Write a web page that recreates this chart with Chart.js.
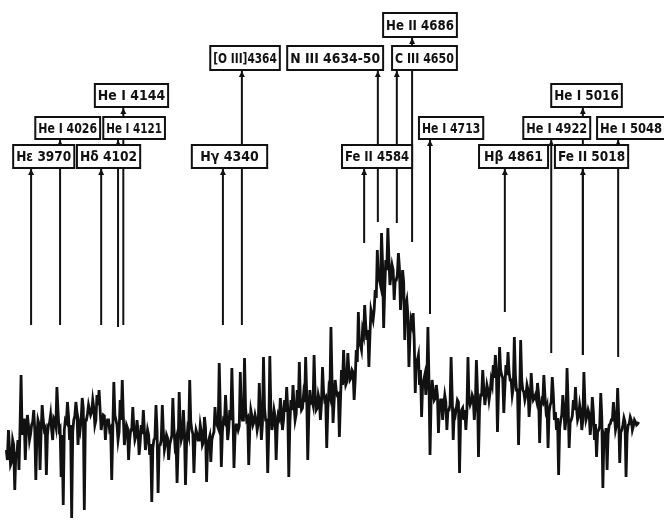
<!DOCTYPE html>
<html>
<head>
<meta charset="utf-8">
<script src="https://cdn.jsdelivr.net/npm/chart.js"></script>
<style>
  html, body { margin: 0; padding: 0; background: #fff; }
  #wrap { width: 664px; height: 523px; position: relative; }
</style>
</head>
<body>
<div id="wrap"><canvas id="spec"></canvas></div>
<script>
// spectrum, relative intensity.
// fluxA: samples every 4 A from 3925 A (spike extremes)
// fluxB: samples in between, every 4 A from 3927 A (the dense core of the trace)
const WAVE_START = 3925;
const WAVE_STEP = 4;
const fluxA = [
  70, 90, 55, 80, 30, 65, 50, 145, 100, 60,
  105, 80, 95, 110, 40, 100, 50, 115, 90, 45,
  95, 105, 80, 100, 133, 90, 43, 15, 100, 118,
  80, 2, 100, 118, 75, 90, 122, 10, 100, 115,
  105, 120, 95, 125, 130, 90, 105, 80, 100, 90,
  40, 138, 100, 80, 120, 140, 75, 95, 60, 90,
  113, 80, 100, 65, 95, 110, 70, 90, 65, 18,
  80, 115, 27, 75, 115, 70, 85, 60, 80, 122,
  75, 37, 128, 80, 110, 35, 90, 140, 90, 47,
  90, 80, 95, 75, 103, 38, 80, 58, 85, 113,
  95, 157, 53, 100, 125, 80, 110, 152, 52, 95,
  90, 148, 100, 162, 100, 55, 110, 95, 105, 90,
  137, 80, 163, 100, 47, 164, 90, 110, 60, 105,
  122, 90, 120, 133, 43, 120, 135, 100, 130, 158,
  110, 125, 163, 60, 130, 120, 165, 110, 125, 100,
  153, 120, 72, 130, 193, 97, 140, 125, 83, 150,
  170, 135, 167, 140, 150, 120, 170, 208, 175, 190,
  215, 180, 153, 210, 200, 230, 270, 240, 287, 192,
  260, 292, 235, 255, 220, 240, 267, 210, 250, 180,
  220, 153, 200, 207, 127, 160, 135, 103, 140, 125,
  193, 65, 140, 120, 135, 87, 120, 100, 125, 90,
  110, 163, 80, 105, 120, 47, 110, 100, 90, 163,
  115, 125, 100, 160, 63, 125, 150, 115, 135, 120,
  140, 155, 165, 88, 173, 145, 107, 155, 168, 140,
  125, 183, 130, 75, 180, 130, 120, 135, 103, 147,
  120, 125, 137, 77, 120, 145, 110, 72, 115, 143,
  100, 90, 45, 100, 125, 90, 152, 72, 100, 120,
  133, 100, 115, 90, 148, 100, 110, 85, 123, 80,
  63, 90, 127, 32, 80, 50, 95, 100, 118, 90,
  132, 57, 90, 102, 43, 95, 103, 90, 100, 95, 98
];
const fluxB = [
  60, 72, 58, 75, 66, 80, 92, 85, 100, 88,
  95, 86, 98, 90, 84, 96, 88, 100, 92, 85,
  97, 90, 102, 94, 110, 92, 85, 90, 98, 104,
  95, 88, 104, 108, 96, 100, 112, 100, 106, 110,
  108, 112, 100, 115, 110, 98, 104, 95, 100, 92,
  88, 105, 95, 88, 100, 104, 86, 92, 80, 90,
  92, 84, 88, 78, 86, 90, 80, 85, 76, 72,
  82, 90, 74, 80, 88, 76, 82, 75, 84, 92,
  80, 72, 95, 84, 88, 76, 85, 98, 86, 78,
  86, 80, 88, 78, 92, 75, 84, 80, 88, 96,
  92, 110, 88, 98, 104, 90, 100, 108, 85, 95,
  94, 106, 100, 112, 102, 90, 104, 98, 100, 96,
  108, 96, 112, 100, 88, 110, 98, 104, 92, 102,
  110, 100, 108, 112, 96, 110, 115, 106, 112, 120,
  112, 118, 125, 105, 118, 115, 126, 112, 120, 116,
  128, 122, 110, 125, 140, 118, 130, 126, 118, 135,
  145, 138, 150, 142, 148, 140, 158, 175, 170, 185,
  195, 190, 185, 205, 210, 222, 240, 235, 255, 230,
  250, 262, 245, 250, 240, 245, 252, 230, 238, 215,
  205, 185, 195, 180, 160, 165, 150, 135, 145, 138,
  140, 118, 130, 122, 125, 112, 120, 115, 118, 110,
  115, 125, 108, 112, 118, 100, 112, 110, 108, 120,
  118, 122, 115, 130, 112, 125, 132, 124, 130, 128,
  135, 142, 148, 130, 150, 142, 132, 145, 148, 140,
  132, 145, 130, 120, 140, 128, 125, 130, 118, 128,
  122, 120, 126, 112, 118, 125, 114, 108, 118, 125,
  108, 102, 92, 105, 112, 100, 118, 98, 104, 110,
  112, 104, 108, 100, 115, 104, 106, 98, 108, 96,
  88, 94, 102, 84, 92, 86, 96, 100, 104, 95,
  104, 88, 95, 98, 86, 96, 100, 94, 98, 96
];

// line identifications
const lineNames = [
  'H\u03b5 3970', 'He I 4026', 'H\u03b4 4102', 'He I 4121', 'He I 4144',
  'H\u03b3 4340', '[O III]4364', 'Fe II 4584', 'N III 4634-50', 'C III 4650',
  'He II 4686', 'He I 4713', 'H\u03b2 4861', 'He I 4922', 'He I 5016',
  'Fe II 5018', 'He I 5048'
];
// where each marker stands on the plotted wavelength scale, and where it stops below
const lineWave = [3972, 4027, 4105, 4137, 4147, 4336, 4372, 4604, 4630, 4666, 4695, 4729, 4871, 4959, 5019, 5019, 5086];
const lineBase = [195, 195, 195, 193, 195, 195, 195, 277, 298, 297, 278, 206, 208, 167, 165, 165, 163];

// label box layout: [left wave, right wave, row]
const rowTop    = [507, 474, 436, 403, 375];
const rowBottom = [483, 450, 413, 381, 352];
const boxLayout = [
  [3938, 4054, 4], [3980, 4103, 3], [4059, 4179, 4], [4109, 4226, 3], [4093, 4232, 2],
  [4277, 4420, 4], [4312, 4444, 1], [4562, 4695, 4], [4458, 4640, 1], [4657, 4780, 1],
  [4640, 4780, 0], [4708, 4830, 3], [4822, 4953, 4], [4906, 5033, 3], [4959, 5093, 2],
  [4966, 5105, 4], [5046, 5175, 3]
];

const INK = '#111';

// interleave the two readings into one trace
const trace = [];
fluxA.forEach((f, i) => {
  trace.push({ x: WAVE_START + i * WAVE_STEP, y: f });
  if (i < fluxB.length) trace.push({ x: WAVE_START + 2 + i * WAVE_STEP, y: fluxB[i] });
});

const labelPlugin = {
  id: 'labelBoxes',
  afterDatasetsDraw(chart) {
    const { ctx, scales: { x, y } } = chart;
    ctx.save();
    ctx.font = 'bold 14px "DejaVu Sans Condensed", "Liberation Sans Narrow", sans-serif';
    ctx.textAlign = 'center';
    ctx.textBaseline = 'middle';
    boxLayout.forEach(([l, r, row], i) => {
      const x0 = x.getPixelForValue(l);
      const x1 = x.getPixelForValue(r);
      const y0 = y.getPixelForValue(rowTop[row]);
      const y1 = y.getPixelForValue(rowBottom[row]);
      ctx.fillStyle = '#fff';
      ctx.fillRect(x0, y0, x1 - x0, y1 - y0);
      ctx.lineWidth = 2;
      ctx.strokeStyle = INK;
      ctx.strokeRect(x0, y0, x1 - x0, y1 - y0);
      ctx.fillStyle = INK;
      ctx.fillText(lineNames[i], (x0 + x1) / 2, (y0 + y1) / 2 + 1, x1 - x0 - 6);
    });
    // arrow heads under each box
    lineWave.forEach((w, i) => {
      const px = x.getPixelForValue(w);
      const py = y.getPixelForValue(rowBottom[boxLayout[i][2]]) + 1;
      ctx.beginPath();
      ctx.moveTo(px, py);
      ctx.lineTo(px - 3, py + 6);
      ctx.lineTo(px + 3, py + 6);
      ctx.closePath();
      ctx.fillStyle = INK;
      ctx.fill();
    });
    ctx.restore();
  }
};

const markerSets = lineWave.map((w, i) => ({
  data: [{ x: w, y: lineBase[i] }, { x: w, y: rowBottom[boxLayout[i][2]] }],
  borderColor: INK,
  borderWidth: 2,
  pointRadius: 0,
}));

new Chart(document.getElementById('spec'), {
  type: 'line',
  data: {
    datasets: [
      {
        data: trace,
        borderColor: INK,
        borderWidth: 2.8,
        pointRadius: 0,
        tension: 0,
      },
      ...markerSets
    ]
  },
  options: {
    responsive: true,
    maintainAspectRatio: false,
    animation: false,
    layout: { padding: 0 },
    plugins: { legend: { display: false }, tooltip: { enabled: false } },
    scales: {
      x: { type: 'linear', min: 3913, max: 5173, display: false },
      y: { min: -3, max: 520, display: false }
    }
  },
  plugins: [labelPlugin]
});
</script>
</body>
</html>
